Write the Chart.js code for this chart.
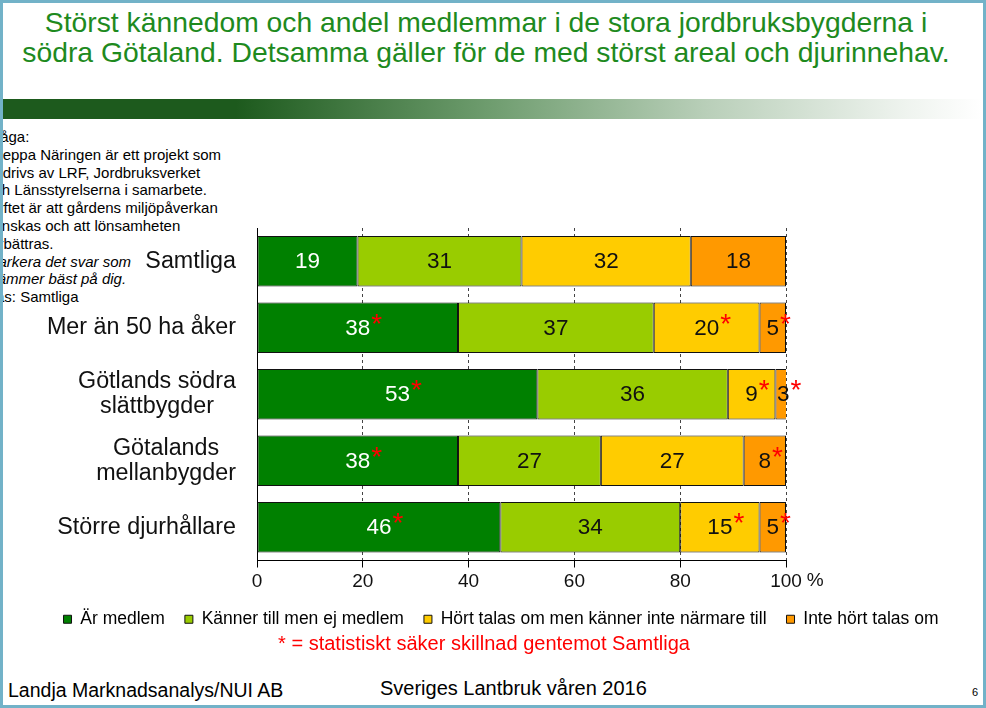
<!DOCTYPE html>
<html>
<head>
<meta charset="utf-8">
<script src="https://cdn.jsdelivr.net/npm/chart.js@4.4.1/dist/chart.umd.min.js"></script>
<style>
  html, body { margin: 0; padding: 0; }
  body { width: 986px; height: 708px; position: relative; overflow: hidden; background: #fff;
         font-family: "Liberation Sans", Arial, sans-serif; }
  .frame { position: absolute; left: 0; top: 0; width: 980px; height: 702px;
           border: 3px solid #72b2c8; z-index: 10; pointer-events: none; }
  .title { position: absolute; left: 0; top: 7px; width: 972px; text-align: center;
           color: #1e8a1e; font-size: 28.3px; line-height: 30px; }
  .band { position: absolute; left: 0; top: 99px; width: 982px; height: 20px;
          background: linear-gradient(to right, #1d5a1d 0%, #1d5a1d 24%, #6f9d6f 50%, #b9cfb9 72%, #eef3ee 92%, #fff 100%); }
  .note { position: absolute; left: -14px; top: 128px; font-size: 15px; line-height: 17.8px; color: #000; }
  .note i { font-style: italic; }
  #wrap { position: absolute; left: 0; top: 215px; width: 986px; height: 423px; }
  .foot { position: absolute; left: 0; top: 632px; width: 968px; text-align: center; color: #f00; font-size: 20px; }
  .src { position: absolute; left: 8px; top: 679px; font-size: 19.5px; color: #000; }
  .mid { position: absolute; left: 380px; top: 677px; font-size: 20px; color: #000; }
  .page { position: absolute; left: 972px; top: 686px; font-size: 11px; color: #000; }
</style>
</head>
<body>
<div class="title">Störst kännedom och andel medlemmar i de stora jordbruksbygderna i<br>södra Götaland. Detsamma gäller för de med störst areal och djurinnehav.</div>
<div class="band"></div>
<div class="note">Fråga:<br>Greppa Näringen är ett projekt som<br>bedrivs av LRF, Jordbruksverket<br>och Länsstyrelserna i samarbete.<br>Syftet är att gårdens miljöpåverkan<br>minskas och att lönsamheten<br>förbättras.<br><i>Markera det svar som<br>stämmer bäst på dig.</i><br>Bas: Samtliga</div>
<div id="wrap"><canvas id="chart"></canvas></div>
<div class="foot">* = statistiskt säker skillnad gentemot Samtliga</div>
<div class="src">Landja Marknadsanalys/NUI AB</div>
<div class="mid">Sveriges Lantbruk våren 2016</div>
<div class="page">6</div>
<div class="frame"></div>

<script>
// categories (multi-line labels as arrays)
var categories = [
  ['Samtliga'],
  ['Mer än 50 ha åker'],
  ['Götlands södra', 'slättbygder'],
  ['Götalands', 'mellanbygder'],
  ['Större djurhållare']
];
var seriesNames = ['Är medlem', 'Känner till men ej medlem', 'Hört talas om men känner inte närmare till', 'Inte hört talas om'];
var arMedlem   = [19, 38, 53, 38, 46];
var kannerTill = [31, 37, 36, 27, 34];
var hortTalas  = [32, 20, 9, 27, 15];
var inteHort   = [18, 5, 3, 8, 5];
// statistically significant difference vs Samtliga
var starMedlem = [false, true, true, true, true];
var starKanner = [false, false, false, false, false];
var starHort   = [false, true, true, false, true];
var starInte   = [false, true, true, true, true];
var xTicks = [0, 20, 40, 60, 80, 100];

var colors = ['#008000', '#99cc00', '#ffcc00', '#ff9900'];
var textColors = ['#ffffff', '#111111', '#111111', '#111111'];
var stars = [starMedlem, starKanner, starHort, starInte];
var values = [arMedlem, kannerTill, hortTalas, inteHort];
var FONT = '"Liberation Sans", Arial, sans-serif';

var ds = values.map(function(v, i) {
  return {
    label: seriesNames[i],
    data: v,
    backgroundColor: colors[i],
    borderColor: '#111',
    borderWidth: 1,
    borderSkipped: false,
    barPercentage: 0.76,
    categoryPercentage: 1.0
  };
});

var barLabels = {
  id: 'barLabels',
  afterDatasetsDraw: function(chart) {
    var ctx = chart.ctx;
    ctx.save();
    chart.data.datasets.forEach(function(d, di) {
      var meta = chart.getDatasetMeta(di);
      meta.data.forEach(function(bar, i) {
        var cx = (bar.x + bar.base) / 2;
        var txt = String(d.data[i]);
        ctx.font = '22.5px ' + FONT;
        ctx.fillStyle = textColors[di];
        ctx.textAlign = 'center';
        ctx.textBaseline = 'middle';
        ctx.fillText(txt, cx, bar.y + 1);
        if (stars[di][i]) {
          var w = ctx.measureText(txt).width;
          ctx.font = '28px ' + FONT;
          ctx.fillStyle = '#ff0000';
          ctx.textAlign = 'left';
          ctx.textBaseline = 'alphabetic';
          ctx.fillText('*', cx + w / 2 + 1, bar.y + 5);
        }
      });
    });
    ctx.restore();
  }
};

var catLabels = {
  id: 'catLabels',
  afterDraw: function(chart) {
    var ctx = chart.ctx;
    var y = chart.scales.y;
    ctx.save();
    ctx.font = '23.3px ' + FONT;
    ctx.fillStyle = '#111';
    ctx.textAlign = 'center';
    ctx.textBaseline = 'middle';
    categories.forEach(function(lines, i) {
      var py = y.getPixelForValue(i);
      var wmax = 0;
      lines.forEach(function(l) { wmax = Math.max(wmax, ctx.measureText(l).width); });
      var cx = 236 - wmax / 2;
      var lh = 25;
      lines.forEach(function(l, k) {
        ctx.fillText(l, cx, py + (k - (lines.length - 1) / 2) * lh);
      });
    });
    // percent sign after the last x tick
    var x = chart.scales.x;
    ctx.font = '19px ' + FONT;
    ctx.textAlign = 'left';
    var w100 = ctx.measureText('100').width;
    ctx.fillText('%', x.getPixelForValue(100) + w100 / 2 + 5, x.top + 20);
    ctx.restore();
  }
};

new Chart(document.getElementById('chart'), {
  type: 'bar',
  data: { labels: categories, datasets: ds },
  options: {
    indexAxis: 'y',
    responsive: true,
    maintainAspectRatio: false,
    animation: false,
    layout: { padding: { top: 13, bottom: 0, left: 16, right: 0 } },
    scales: {
      x: {
        stacked: true,
        min: 0, max: 100,
        afterBuildTicks: function(s) { s.ticks = xTicks.map(function(v) { return { value: v }; }); },
        afterFit: function(s) { s.height = 30; },
        grid: { color: '#444', lineWidth: 1, tickLength: 7, tickColor: '#000', tickBorderDash: [1, 0] },
        border: { display: true, color: '#000', width: 1, dash: [3, 3] },
        ticks: { color: '#111', padding: 3, font: { size: 19, family: FONT } }
      },
      y: {
        stacked: true,
        afterFit: function(s) { s.width = 241; },
        grid: { display: false },
        border: { display: true, color: '#000', width: 1 },
        ticks: { display: false }
      },
      y2: {
        type: 'linear',
        position: 'right',
        min: 0, max: 1,
        afterFit: function(s) { s.width = 200; },
        grid: { display: false },
        border: { display: false },
        ticks: { display: false }
      }
    },
    plugins: {
      legend: {
        position: 'bottom',
        labels: {
          boxWidth: 8, boxHeight: 8, padding: 20, color: '#000',
          font: { size: 17.5, family: FONT }
        }
      },
      tooltip: { enabled: false }
    }
  },
  plugins: [barLabels, catLabels]
});
</script>
</body>
</html>
